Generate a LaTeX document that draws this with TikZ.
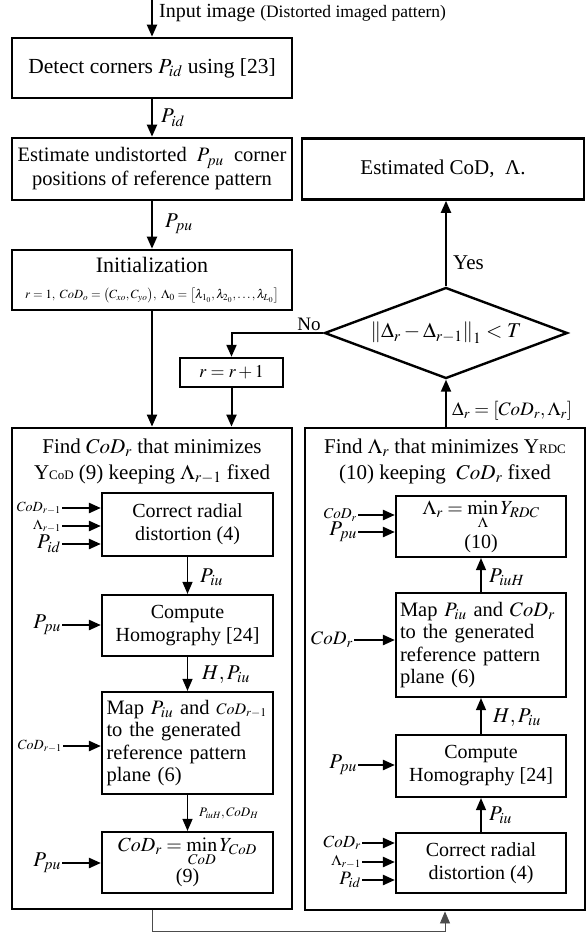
\documentclass[tikz,border=0pt]{standalone}
\usepackage{amsmath}
\usepackage{mathptmx}
\usepackage{fontspec}
\setmainfont{Liberation Serif}
\usetikzlibrary{shapes.geometric,arrows.meta}

\begin{document}
\begin{tikzpicture}[x=1pt, y=-1pt, >={Triangle[length=12pt,width=10pt]},
        every node/.style={font=\fontsize{20}{23}\selectfont},
        mainbox/.style={draw, line width=2.6pt, minimum width=280pt, align=center, inner sep=2pt},
        innerbox/.style={draw, line width=2.2pt, minimum width=171pt, align=center, inner sep=2pt, font=\fontsize{20}{23}\selectfont},
        mapbox/.style={innerbox, align=left, inner xsep=4pt, text width=162pt, font=\fontsize{20.5}{22.5}\selectfont},
        flow/.style={->, line width=2pt}, thinflow/.style={->, line width=1.2pt},
        feed/.style={->, line width=2.4pt}, lbl/.style={inner sep=1pt}]
    \useasboundingbox (0,0) rectangle (586,934);
    % main column
    \coordinate (in) at (152,0);
    \node[lbl, anchor=west] (intext) at (158,13) {Input image {\fontsize{17.5}{19}\selectfont (Distorted imaged pattern)}};
    \node[mainbox, minimum height=60pt, font=\fontsize{21.5}{24}\selectfont] (detect) at (152,68) {Detect corners $P_{id}$ using [23]};
    \node[mainbox, minimum height=62pt, font=\fontsize{20.5}{24}\selectfont] (estim) at (152,169) {Estimate undistorted \ $P_{pu}$ \ corner\\positions of reference pattern};
    \node[mainbox, minimum height=60pt] (init) at (152,280) {{\fontsize{22}{24}\selectfont Initialization}\\[3pt]
        {\fontsize{12.5}{14}\selectfont $r=1,\ CoD_o=\bigl(C_{xo},C_{yo}\bigr),\ \Lambda_0=\bigl[\lambda_{1_0},\lambda_{2_0},\ldots,\lambda_{L_0}\bigr]$}};
    \node[mainbox, minimum width=282pt, minimum height=61pt, font=\fontsize{21}{24}\selectfont] (result) at (443,169) {Estimated CoD,\ \ Λ.};
    \node[draw, diamond, line width=2.4pt, aspect=2.67, minimum width=243pt, minimum height=91pt, inner sep=0pt,
        font=\fontsize{21}{24}\selectfont] (cond) at (446,333) {$\left\|\Delta_r-\Delta_{r-1}\right\|_1<T$};
    \node[draw, line width=2.4pt, minimum width=103pt, minimum height=29pt, inner sep=0pt, font=\fontsize{18}{20}\selectfont] (incr) at (231.5,372.5) {$r=r+1$};
    % the two loop blocks
    \node[draw, line width=2.8pt, minimum width=280pt, minimum height=481pt] (leftbig) at (152,668.5) {};
    \node[draw, line width=2.8pt, minimum width=280pt, minimum height=482pt] (rightbig) at (445,669) {};
    \node[align=center, font=\fontsize{21}{26}\selectfont] (lhead) at (152,461) {Find $CoD_r$ that minimizes\\Υ{\fontsize{13}{14}\selectfont CoD} (9) keeping $\Lambda_{r-1}$ fixed};
    \node[align=center, font=\fontsize{21}{26}\selectfont] (rhead) at (445,461) {Find $\Lambda_r$ that minimizes Υ{\fontsize{13}{14}\selectfont RDC}\\(10) keeping \ $CoD_r$ fixed};
    % left block
    \node[innerbox, minimum height=63pt] (lcorr) at (187.5,524.5) {Correct radial\\distortion (4)};
    \node[innerbox, minimum height=61pt] (lhomo) at (187.5,625.5) {Compute\\Homography [24]};
    \node[mapbox, minimum height=102pt] (lmap) at (187.5,743) {Map $P_{iu}$ and {\fontsize{16}{18}\selectfont$CoD_{r-1}$}\\to the generated\\reference pattern\\plane (6)};
    \node[innerbox, minimum height=61pt, font=\fontsize{20}{22}\selectfont] (lmin) at (187.5,862.5) {$\displaystyle CoD_r=\min_{CoD}Y_{CoD}$\\[1pt](9)};
    % right block
    \node[innerbox, minimum width=170pt, minimum height=61pt, font=\fontsize{20}{22}\selectfont] (rmin) at (481,526.5) {$\displaystyle\Lambda_r=\min_{\Lambda}Y_{RDC}$\\[4pt](10)};
    \node[mapbox, minimum width=170pt, minimum height=104pt] (rmap) at (481,645) {Map $P_{iu}$ and $CoD_r$\\to the generated\\reference pattern\\plane (6)};
    \node[innerbox, minimum width=170pt, minimum height=62pt] (rhomo) at (481,766) {Compute\\Homography [24]};
    \node[innerbox, minimum width=170pt, minimum height=60pt] (rcorr) at (481,863) {Correct radial\\distortion (4)};
    % connector labels
    \node[lbl, anchor=west, font=\fontsize{21}{23}\selectfont] (lpid) at (160,118) {$P_{id}$};
    \node[lbl, anchor=west, font=\fontsize{21}{23}\selectfont] (lppu) at (164,224) {$P_{pu}$};
    \node[lbl, anchor=west, font=\fontsize{21}{23}\selectfont] (yes) at (452,263) {Yes};
    \node[lbl, font=\fontsize{19}{21}\selectfont] (no) at (309,324) {No};
    \node[lbl, anchor=west, font=\fontsize{19}{21}\selectfont] (ldelta) at (451,411) {$\Delta_r=\left[CoD_r,\Lambda_r\right]$};
    \node[lbl, anchor=west, font=\fontsize{21}{23}\selectfont] (l1) at (199,577) {$P_{iu}$};
    \node[lbl, anchor=west, font=\fontsize{21}{23}\selectfont] (l2) at (201,675) {$H,P_{iu}$};
    \node[lbl, anchor=west, font=\fontsize{13}{15}\selectfont] (l3) at (198,813) {$P_{iuH},CoD_H$};
    \node[lbl, anchor=west, font=\fontsize{21}{23}\selectfont] (r1) at (488,577) {$P_{iuH}$};
    \node[lbl, anchor=west, font=\fontsize{21}{23}\selectfont] (r2) at (492,718) {$H,P_{iu}$};
    \node[lbl, anchor=west, font=\fontsize{21}{23}\selectfont] (r3) at (488,815) {$P_{iu}$};
    % inputs
    \node[lbl, anchor=east, font=\fontsize{14}{15}\selectfont] (a1) at (62,508) {$CoD_{r-1}$};
    \node[lbl, anchor=east, font=\fontsize{14}{15}\selectfont] (a2) at (62,526) {$\Lambda_{r-1}$};
    \node[lbl, anchor=east, font=\fontsize{21}{22}\selectfont] (a3) at (62,544) {$P_{id}$};
    \node[lbl, anchor=east, font=\fontsize{21}{22}\selectfont] (a4) at (62,625) {$P_{pu}$};
    \node[lbl, anchor=east, font=\fontsize{14}{16}\selectfont] (a5) at (63,746) {$CoD_{r-1}$};
    \node[lbl, anchor=east, font=\fontsize{21}{22}\selectfont] (a6) at (62,863) {$P_{pu}$};
    \node[lbl, anchor=east, font=\fontsize{15}{16}\selectfont] (b1) at (358,515) {$CoD_r$};
    \node[lbl, anchor=east, font=\fontsize{21}{22}\selectfont] (b2) at (358,532) {$P_{pu}$};
    \node[lbl, anchor=east, font=\fontsize{19}{20}\selectfont] (b3) at (354,640) {$CoD_r$};
    \node[lbl, anchor=east, font=\fontsize{21}{22}\selectfont] (b4) at (358,765) {$P_{pu}$};
    \node[lbl, anchor=east, font=\fontsize{17}{18}\selectfont] (b5) at (362,843) {$CoD_r$};
    \node[lbl, anchor=east, font=\fontsize{15}{16}\selectfont] (b6) at (362,862) {$\Lambda_{r-1}$};
    \node[lbl, anchor=east, font=\fontsize{19}{20}\selectfont] (b7) at (362,880) {$P_{id}$};
    % connectors
    \draw[flow] (in) -- (detect.north);
    \draw[flow] (detect) -- (estim);
    \draw[flow] (estim) -- (init);
    \draw[flow] (init.south) -- (init.south |- leftbig.north);
    \draw[flow] (cond.north) -- (cond.north |- result.south);
    \draw[flow] (cond.west) -| (incr.north);
    \draw[flow] (incr.south) -- (incr.south |- leftbig.north);
    \draw[flow] (cond.south |- rightbig.north) -- (cond.south);
    \draw[thinflow] (lcorr) -- (lhomo);
    \draw[thinflow] (lhomo) -- (lmap);
    \draw[thinflow] (lmap) -- (lmin);
    \draw[thinflow] (rcorr) -- (rhomo);
    \draw[thinflow] (rhomo) -- (rmap);
    \draw[thinflow] (rmap) -- (rmin);
    \foreach \a/\b in {a1/lcorr, a2/lcorr, a3/lcorr, a4/lhomo, a5/lmap, a6/lmin,
            b1/rmin, b2/rmin, b3/rmap, b4/rhomo, b5/rcorr, b6/rcorr, b7/rcorr}
        \draw[feed] (\a.east) -- (\a.east -| \b.west);
    \draw[->, line width=0.8pt, draw=black!70] (leftbig.south) -- ++(0,21) -| (rightbig.south);
\end{tikzpicture}
\end{document}
